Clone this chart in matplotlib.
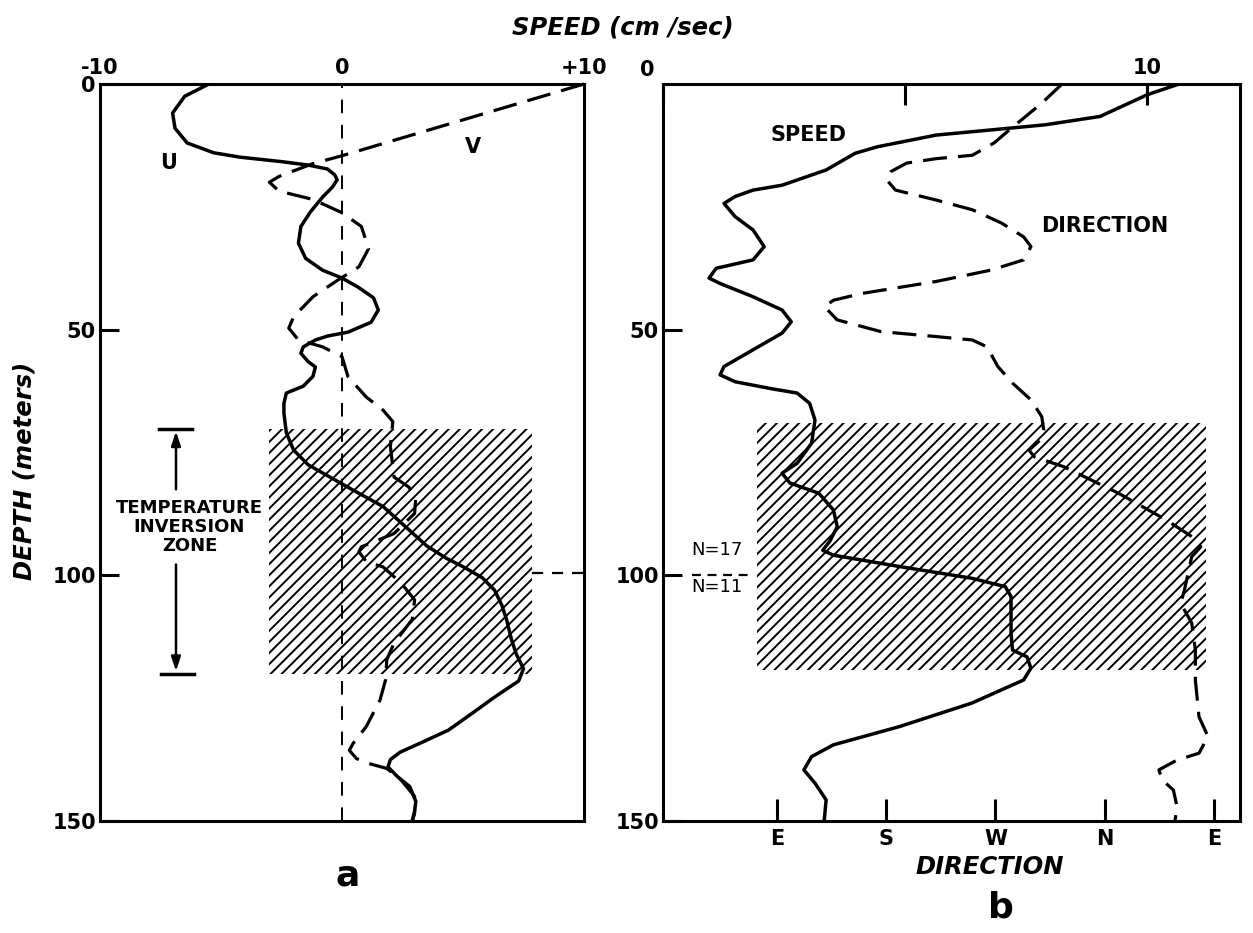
import matplotlib.pyplot as plt
from matplotlib.patches import Rectangle

plt.rcParams['font.family'] = ['DejaVu Sans']
plt.rcParams['font.weight'] = 'bold'
plt.rcParams['hatch.linewidth'] = 1.4

# ---- panel a : U and V components (cm/sec) vs depth (m)
u_speed = [-5.5, -6.5, -7.0, -6.9, -6.4, -5.3, -4.2, -2.5, -1.4, -0.6, -0.3, -0.2, -0.4, -0.8,
           -1.3, -1.7, -1.8, -1.5, -0.8, 0.0, 0.65, 1.3, 1.5, 1.2, 0.25, -0.6, -1.1, -1.6, -1.7,
           -1.4, -1.1, -1.2, -1.6, -2.3, -2.4, -2.4, -2.3, -2.0, -1.4, -0.5, 0.4, 1.7, 2.6, 3.5,
           4.3, 5.1, 5.8, 6.3, 6.6, 6.8, 7.0, 7.2, 7.5, 7.3, 6.3, 5.4, 4.4, 3.3, 2.4, 2.0, 1.9,
           2.3, 2.8, 3.05, 3.0, 2.9]
u_depth = [0, 2.5, 5.9, 9, 12.0, 14, 14.9, 15.8, 16.5, 17.3, 18.5, 19.5, 21, 23,
           26, 29, 32.4, 35.5, 37.9, 39.5, 41.3, 43.5, 46, 48.5, 50.5, 51.3, 52.1, 53.5, 54.8,
           56.5, 57.6, 59.5, 61.5, 62.9, 65, 67, 71, 74.5, 77.5, 80, 82.5, 86, 90, 94,
           96.5, 98.5, 100.5, 103, 106, 109, 113, 116, 119, 121.5, 124.8, 128, 131.5, 134, 136, 137.5, 139,
           141, 143, 146, 148, 150]

v_speed = [10, 0.0, -1.2, -2.6, -3.0, -2.6, -1.2, 0.0, 0.8, 1.1, 0.7, -0.2, -1.2, -2.0, -2.2,
           -1.8, -0.8, 0.0, 0.25, 1.0, 1.7, 2.1, 2.0, 2.15, 2.75, 3.05, 3.0, 2.15, 0.8, 0.7, 1.0,
           1.7, 2.45, 3.0, 2.9, 2.15, 1.85, 1.8, 1.57, 1.0, 0.46, 0.3, 0.6, 1.1, 1.85, 2.45, 3.0,
           3.0, 2.9]
v_depth = [0, 14.6, 16.2, 18.8, 20.0, 21.8, 23.5, 26.2, 29, 33.5, 37.2, 40, 43.3, 47.4, 49.7,
           52.1, 53.5, 55.5, 59.6, 63.7, 66.4, 68.7, 73.8, 80, 82, 84, 87.4, 91.5, 94.2, 95.2, 97.2,
           98.3, 101.6, 105, 109, 113.8, 117.2, 121.3, 125.4, 130.8, 134.2, 135.6, 137.3, 138.3, 139.3, 141.7, 145,
           148.5, 150]

# ---- panel b : speed (cm/sec) and direction (deg, E=90 ... E=450) vs depth
spd = [10.66, 10.0, 9.03, 7.9, 7.15, 5.64, 4.42, 3.97, 3.37, 2.46, 1.86, 1.49, 1.26, 1.49, 1.86,
       2.09, 1.86, 1.1, 0.95, 1.18, 1.86, 2.46, 2.65, 2.46, 1.86, 1.26, 1.18, 1.49, 2.23, 2.77,
       3.03, 3.14, 3.07, 2.77, 2.46, 2.62, 3.22, 3.52, 3.6, 3.45, 3.3, 3.52, 4.88, 6.38, 7.07,
       7.19, 7.19, 7.22, 7.52, 7.6, 7.45, 6.38, 4.88, 3.52, 3.07, 2.91, 3.14, 3.37, 3.33]
spd_depth = [0, 2.2, 6.6, 8.3, 9.0, 10.4, 12.8, 14.1, 17.5, 20.6, 21.6, 22.9, 24.3, 27, 29.7,
             33.1, 35.8, 37.5, 39.5, 40.6, 43.3, 46, 48.4, 50.7, 54.1, 57.5, 59.2, 60.6, 62, 62.9,
             65, 68.4, 73.1, 77.2, 79.2, 81.2, 83.3, 86.7, 90.1, 93.0, 94.9, 95.9, 98.2, 100.6, 102.3,
             104.3, 111.8, 115.2, 116.6, 118.9, 121.3, 126, 130.8, 134.5, 136.9, 139.6, 142.3, 145.7, 150]

dir_deg = [324.9, 308.2, 281.2, 268.9, 251, 221, 196.8, 184, 180.3, 187.7, 221, 251, 275, 293.2,
           299.3, 293.2, 266, 220.9, 160.6, 136.6, 129.1, 139.5, 175.7, 220.9, 251, 263, 272, 284.2,
           299.3, 308.2, 309.8, 306.8, 297.7, 302.2, 326.4, 371.5, 410.6, 431.8, 439.3, 431.8, 425.8,
           422.7, 431.8, 434.8, 434.8, 437.8, 445.2, 437.8, 419.7, 404.7, 407.7, 416.7, 419.7, 418]
dir_depth = [0, 3.9, 9.4, 12, 14.5, 15.2, 16.1, 17.8, 19.5, 21.6, 23.6, 25.6, 28.3, 31.1,
             33.1, 35.8, 37.9, 40.2, 42.6, 44, 45.3, 48, 50.4, 51.4, 52.1, 53.5, 57.5, 60.9,
             64.3, 67.7, 70.4, 72.5, 74.5, 75.9, 77.9, 83.3, 88.7, 92.1, 94.2, 96.2, 103,
             105.7, 109.7, 115.2, 121.3, 128.8, 132.8, 136.2, 137.6, 139.6, 141.7, 143.7, 147.1, 150]

depth_ticks = [0, 50, 100, 150]
uv_ticks = [-10, 0, 10]
uv_labels = ['-10', '0', '+10']
spd_ticks = [0, 5, 10]
spd_labels = ['', '', '10']
dir_ticks = [90, 180, 270, 360, 450]
dir_labels = ['E', 'S', 'W', 'N', 'E']

# hatched inversion zones: (x0, x1, depth0, depth1)
zone_a = (-3.0, 7.85, 70.2, 120.0)
zone_b = (1.94, 11.22, 69.0, 119.3)

W, H = 1253, 933
fig = plt.figure(figsize=(W / 100, H / 100), dpi=100)


def px_axes(x0, y0, x1, y1):
    return fig.add_axes([x0 / W, 1 - y1 / H, (x1 - x0) / W, (y1 - y0) / H])


axa = px_axes(100, 84, 584, 821)
axb = px_axes(663, 84, 1240, 821)
axd = axb.twiny()   # direction axis along the bottom of panel b

for ax in (axa, axb):
    ax.set_ylim(150, 0)
    for s in ax.spines.values():
        s.set_linewidth(2.2)
    ax.tick_params(axis='y', direction='in', length=14, width=2.2, pad=3, labelsize=15)

# ---------------- panel a
axa.set_xlim(-10, 10)
axa.xaxis.tick_top()
axa.set_xticks(uv_ticks, uv_labels)
axa.tick_params(axis='x', length=0, pad=4, labelsize=15)
axa.set_yticks(depth_ticks)

axa.add_patch(Rectangle((zone_a[0], zone_a[2]), zone_a[1] - zone_a[0], zone_a[3] - zone_a[2],
                        fill=False, hatch='///', lw=0, edgecolor='k', zorder=1))
axa.axvline(0, color='k', lw=1.4, dashes=(7, 6), zorder=2)
axa.plot([zone_a[1], 10], [99.5, 99.5], color='k', lw=1.6, dashes=(5, 4))
axa.plot(u_speed, u_depth, color='k', lw=2.5, solid_joinstyle='round', zorder=3)
axa.plot(v_speed, v_depth, color='k', lw=2.3, dashes=(7.5, 3.5), dash_joinstyle='round',
         zorder=3, clip_on=False)

axa.text(-7.15, 16, 'U', fontsize=15, ha='center', va='center')
axa.text(5.4, 12.8, 'V', fontsize=15, ha='center', va='center')

# temperature inversion zone marker
xa = -6.86
axa.plot([-7.56, -6.18], [zone_a[2], zone_a[2]], color='k', lw=2.5)
axa.plot([-7.48, -6.13], [zone_a[3], zone_a[3]], color='k', lw=2.5)
arw = dict(arrowstyle='-|>,head_length=0.6,head_width=0.2', lw=1.8, color='k',
           shrinkA=0, shrinkB=0, mutation_scale=14)
axa.annotate('', xy=(xa, zone_a[2] + 0.5), xytext=(xa, 82.5), arrowprops=arw)
axa.annotate('', xy=(xa, zone_a[3] - 0.5), xytext=(xa, 97.8), arrowprops=arw)
axa.text(-6.3, 90.2, 'TEMPERATURE\nINVERSION\nZONE', fontsize=13, ha='center', va='center',
         linespacing=1.05)

# ---------------- panel b
axb.set_xlim(0, 11.92)
axb.xaxis.tick_top()
axb.set_xticks(spd_ticks, spd_labels)
axb.tick_params(axis='x', direction='in', length=15, width=2.2, pad=4, labelsize=15)
axb.set_yticks([50, 100, 150])
axb.annotate('0', xy=(0, 0), xytext=(-11, 10), textcoords='offset points',
             fontsize=15, ha='center', va='center')

axd.set_xlim(-4, 471.6)
axd.xaxis.tick_bottom()
axd.set_xticks(dir_ticks, dir_labels)
axd.tick_params(axis='x', direction='in', length=16, width=2.2, pad=6, labelsize=15)
for s in axd.spines.values():
    s.set_visible(False)

axb.add_patch(Rectangle((zone_b[0], zone_b[2]), zone_b[1] - zone_b[0], zone_b[3] - zone_b[2],
                        fill=False, hatch='///', lw=0, edgecolor='k', zorder=1))
axb.plot(spd, spd_depth, color='k', lw=2.5, solid_joinstyle='round', zorder=3)
axd.plot(dir_deg, dir_depth, color='k', lw=2.3, dashes=(7.5, 3.5), dash_joinstyle='round', zorder=3)

axb.plot([0.6, 1.86], [100, 100], color='k', lw=1.6, dashes=(4, 3))
axb.text(1.12, 94.8, 'N=17', fontsize=13, fontweight='normal', ha='center', va='center')
axb.text(1.12, 102.3, 'N=11', fontsize=13, fontweight='normal', ha='center', va='center')
axb.text(3.0, 10.4, 'SPEED', fontsize=15, ha='center', va='center')
axb.text(9.13, 29, 'DIRECTION', fontsize=15, ha='center', va='center')

# ---------------- figure labels
fig.text(623 / W, 1 - 27 / H, 'SPEED (cm /sec)', ha='center', va='center',
         fontsize=17.5, style='italic')
fig.text(25 / W, 1 - 471 / H, 'DEPTH (meters)', ha='center', va='center', rotation=90,
         fontsize=17.5, style='italic')
fig.text(990 / W, 1 - 867 / H, 'DIRECTION', ha='center', va='center',
         fontsize=17.5, style='italic')
fig.text(348 / W, 1 - 875 / H, 'a', ha='center', va='center', fontsize=26)
fig.text(1001 / W, 1 - 907 / H, 'b', ha='center', va='center', fontsize=26)

fig.savefig('out.png', dpi=100)
